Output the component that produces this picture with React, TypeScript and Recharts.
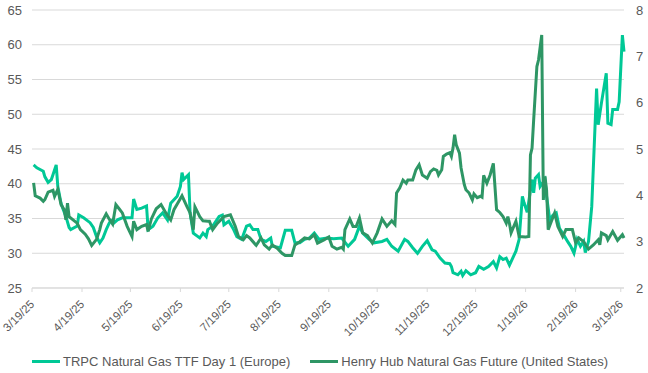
import { LineChart, Line, XAxis, YAxis, CartesianGrid, Legend } from 'recharts';

// day offsets from 3/19/25
const ttfDays = [1, 3, 7, 8, 10, 12, 13, 15, 16, 18, 19, 21, 23, 24, 28, 29, 32, 36, 38, 40, 42, 44, 46, 48, 50, 51, 53, 56, 62, 63, 65, 68, 71, 72, 75, 78, 81, 84, 86, 90, 92, 93, 94, 97, 98, 100, 104, 106, 108, 109, 112, 116, 118, 119, 122, 125, 127, 130, 133, 135, 137, 140, 142, 145, 148, 149, 154, 157, 161, 163, 166, 169, 172, 175, 178, 183, 187, 192, 196, 200, 203, 205, 209, 212, 217, 220, 223, 227, 231, 233, 236, 239, 242, 245, 248, 250, 253, 256, 259, 260, 261, 264, 266, 267, 269, 272, 275, 277, 280, 283, 286, 288, 290, 292, 294, 296, 298, 300, 302, 304, 305, 307, 310, 311, 312, 314, 315, 318, 319, 321, 323, 325, 327, 330, 332, 334, 336, 338, 340, 342, 343, 345, 347, 350, 351, 353, 356, 357, 359, 360, 363, 364, 366, 367];
const ttfValues = [42.7, 42.3, 41.8, 41.0, 40.2, 40.6, 41.3, 42.7, 39.6, 37.2, 36.5, 35.3, 33.7, 33.4, 33.9, 35.5, 35.1, 34.4, 33.7, 32.4, 31.5, 32.2, 33.4, 34.4, 34.8, 34.4, 34.8, 35.1, 35.1, 37.8, 36.3, 36.5, 36.8, 33.4, 33.9, 35.1, 35.8, 34.8, 37.2, 38.2, 39.6, 41.6, 40.6, 41.3, 35.8, 32.9, 32.2, 32.9, 32.4, 33.4, 33.9, 35.3, 35.5, 34.1, 34.6, 33.4, 32.4, 32.0, 33.9, 34.1, 33.4, 33.4, 32.0, 31.7, 32.2, 31.0, 30.8, 33.3, 33.3, 31.5, 31.5, 32.0, 32.2, 32.9, 32.0, 32.2, 32.1, 32.2, 31.0, 32.0, 33.9, 32.9, 32.0, 31.5, 31.7, 32.0, 31.0, 30.3, 32.0, 31.7, 30.8, 30.0, 31.0, 31.8, 30.5, 30.3, 29.3, 28.6, 28.5, 28.1, 27.2, 26.9, 27.4, 26.8, 27.5, 26.9, 27.2, 28.1, 27.7, 28.1, 28.8, 27.9, 29.5, 29.1, 29.3, 28.3, 29.3, 30.3, 32.0, 38.2, 37.3, 35.9, 40.6, 38.7, 40.8, 41.3, 39.6, 40.6, 38.2, 34.8, 35.5, 35.8, 33.6, 32.5, 31.7, 31.0, 30.0, 32.0, 31.0, 31.7, 30.1, 31.7, 36.7, 53.7, 48.5, 51.6, 55.9, 48.7, 48.5, 50.7, 50.7, 51.8, 61.4, 59.0];

const hhDays = [1, 2, 5, 7, 8, 10, 13, 14, 16, 18, 20, 21, 22, 23, 28, 30, 33, 35, 37, 40, 42, 43, 46, 48, 50, 52, 54, 56, 59, 62, 63, 65, 68, 71, 72, 74, 77, 80, 83, 86, 88, 93, 96, 98, 100, 101, 104, 106, 109, 110, 112, 115, 119, 123, 126, 128, 131, 133, 135, 139, 142, 144, 147, 149, 152, 155, 157, 161, 163, 166, 169, 172, 175, 177, 181, 184, 186, 189, 192, 193, 194, 197, 199, 201, 203, 205, 208, 211, 214, 217, 220, 223, 225, 226, 228, 230, 232, 233, 236, 238, 240, 242, 245, 247, 249, 251, 252, 254, 255, 257, 259, 260, 261, 262, 263, 265, 266, 268, 269, 271, 273, 274, 276, 278, 279, 280, 282, 284, 286, 288, 290, 292, 294, 295, 296, 297, 300, 302, 306, 308, 309, 310, 311, 313, 314, 316, 317, 318, 319, 320, 322, 324, 326, 329, 331, 335, 337, 339, 342, 345, 348, 351, 352, 353, 356, 357, 360, 363, 366, 367];
const hhValues = [4.27, 3.99, 3.94, 3.87, 3.91, 4.07, 4.11, 3.98, 4.13, 3.80, 3.69, 3.47, 3.83, 3.54, 3.40, 3.26, 3.16, 3.06, 2.92, 3.05, 3.26, 3.40, 3.60, 3.48, 3.38, 3.80, 3.71, 3.62, 3.33, 3.11, 3.44, 3.26, 3.33, 3.37, 3.22, 3.49, 3.71, 3.80, 3.62, 3.47, 3.69, 3.99, 3.76, 3.62, 3.26, 3.75, 3.54, 3.45, 3.44, 3.44, 3.26, 3.40, 3.54, 3.58, 3.33, 3.11, 3.04, 3.13, 3.08, 2.92, 3.08, 2.93, 2.84, 2.93, 2.86, 2.75, 2.70, 2.70, 2.93, 3.00, 3.08, 3.06, 3.15, 2.97, 3.04, 3.10, 2.90, 2.84, 2.88, 2.84, 3.26, 3.49, 3.33, 3.33, 3.51, 3.19, 3.13, 2.97, 3.19, 3.49, 3.33, 3.45, 3.37, 4.05, 4.16, 4.33, 4.26, 4.33, 4.33, 4.55, 4.66, 4.44, 4.37, 4.51, 4.57, 4.54, 4.44, 4.55, 4.84, 4.89, 4.92, 4.84, 5.02, 5.31, 5.09, 4.91, 4.59, 4.23, 4.12, 4.05, 3.90, 4.03, 3.95, 3.98, 3.96, 4.43, 4.26, 4.44, 4.69, 3.69, 3.63, 3.54, 3.40, 3.54, 3.39, 3.19, 3.44, 3.11, 3.10, 3.11, 4.87, 5.02, 5.63, 6.78, 6.92, 7.46, 3.90, 4.41, 4.12, 3.26, 3.44, 3.62, 3.33, 3.11, 3.26, 3.26, 2.98, 3.08, 3.00, 2.84, 2.93, 3.04, 2.93, 3.19, 3.13, 3.04, 3.22, 3.03, 3.15, 3.08];

const tickDays = [0, 31, 61, 92, 122, 153, 184, 214, 245, 275, 306, 337, 365];
const tickLabels = ['3/19/25', '4/19/25', '5/19/25', '6/19/25', '7/19/25', '8/19/25', '9/19/25', '10/19/25', '11/19/25', '12/19/25', '1/19/26', '2/19/26', '3/19/26'];

const leftTicks = [25, 30, 35, 40, 45, 50, 55, 60, 65];
const rightTicks = [2, 3, 4, 5, 6, 7, 8];

const seriesNames = ['TRPC Natural Gas TTF Day 1 (Europe)', 'Henry Hub Natural Gas Future (United States)'];
const TTF_COLOR = '#00C896';
const HH_COLOR = '#2E9665';

const ttfData = ttfDays.map((d, i) => ({ day: d, ttf: ttfValues[i] }));
const hhData = hhDays.map((d, i) => ({ day: d, hh: hhValues[i] }));

const FONT = '"Liberation Sans", Arial, sans-serif';

const DateTick = (props: any) => {
  const { x, y, payload } = props;
  const label = tickLabels[tickDays.indexOf(payload.value)];
  return (
    <g transform={`translate(${x + 3},${y + 11})`}>
      <text textAnchor="end" transform="rotate(-45)" fill="#595959" fontSize={11.5} fontFamily={FONT}>
        {label}
      </text>
    </g>
  );
};

const LegendContent = () => (
  <div style={{ display: 'flex', justifyContent: 'center', alignItems: 'center', height: 24, fontFamily: FONT, fontSize: 13, color: '#595959', paddingRight: 8 }}>
    {[TTF_COLOR, HH_COLOR].map((c, i) => (
      <div key={i} style={{ display: 'flex', alignItems: 'center', marginRight: i === 0 ? 20 : 0 }}>
        <div style={{ width: 28, height: 3, background: c, marginRight: 3 }} />
        <span>{seriesNames[i]}</span>
      </div>
    ))}
  </div>
);

export default function App() {
  return (
    <div style={{ position: 'absolute', left: 0, top: 0, width: 648, height: 373 }}>
      <LineChart width={648} height={373} margin={{ top: 10, right: 0, bottom: 0, left: 0 }}>
        <CartesianGrid yAxisId="left" vertical={false} stroke="#D9D9D9" />
        <XAxis
          dataKey="day"
          type="number"
          domain={[0, 367]}
          ticks={tickDays}
          interval={0}
          tick={<DateTick />}
          height={61}
          stroke="#D9D9D9"
          tickSize={4}
          allowDuplicatedCategory={false}
        />
        <YAxis
          yAxisId="left"
          domain={[25, 65]}
          ticks={leftTicks}
          width={32}
          axisLine={false}
          tickLine={false}
          tickMargin={4}
          tick={{ fill: '#595959', fontSize: 13, fontFamily: FONT }}
        />
        <YAxis
          yAxisId="right"
          orientation="right"
          domain={[2, 8]}
          ticks={rightTicks}
          width={24}
          axisLine={false}
          tickLine={false}
          tickMargin={6}
          tick={{ fill: '#595959', fontSize: 13, fontFamily: FONT }}
        />
        <Legend verticalAlign="bottom" content={<LegendContent />} />
        <Line
          yAxisId="left"
          data={ttfData}
          dataKey="ttf"
          name={seriesNames[0]}
          stroke={TTF_COLOR}
          strokeWidth={3}
          dot={false}
          type="linear"
          isAnimationActive={false}
        />
        <Line
          yAxisId="right"
          data={hhData}
          dataKey="hh"
          name={seriesNames[1]}
          stroke={HH_COLOR}
          strokeWidth={3}
          dot={false}
          type="linear"
          isAnimationActive={false}
        />
      </LineChart>
    </div>
  );
}
